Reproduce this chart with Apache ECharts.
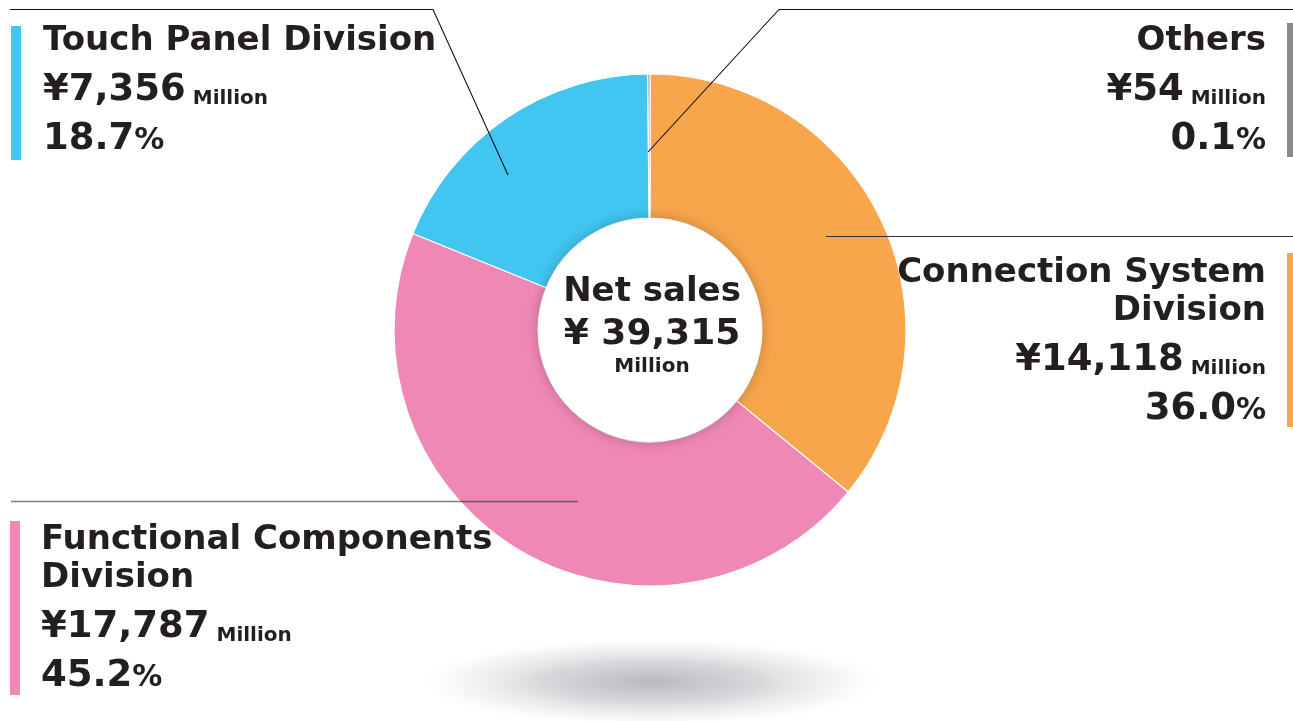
<!DOCTYPE html>
<html>
<head>
<meta charset="utf-8">
<style>
  html, body { margin: 0; padding: 0; background: #fff; }
  #chart { width: 1293px; height: 721px; }
</style>
<script src="https://cdn.jsdelivr.net/npm/echarts@6/dist/echarts.min.js"></script>
</head>
<body>
<div id="chart"></div>
<script>
(function() {
  // data, clockwise from 12 o'clock
  var divisionNames = ['Connection System\nDivision', 'Functional Components\nDivision', 'Touch Panel Division', 'Others'];
  var salesMillion = [14118, 17787, 7356, 54];
  var shareLabels = ['36.0', '45.2', '18.7', '0.1'];
  var netSales = 39315;
  var centerTitle = 'Net sales';
  var unitLabel = 'Million';

  var ink = '#231f20';
  var sliceColors = ['#f8a64b', '#f088b5', '#41c6f2', '#8a8a8a'];
  var pieCenter = [650, 330];

  // where each label sits and how its leader line runs
  var labelSpots = [
    { x: 1266, y: 254, align: 'right', line: [[826, 236.5], [1100, 236.5], [1293, 236.5]], lineColor: '#333', lineWidth: 1.2 },
    { x: 41, y: 521, align: 'left', line: [[578, 501.5], [300, 501.5], [11, 501.5]], lineColor: 'rgba(40,40,40,0.6)', lineWidth: 1.5 },
    { x: 43, y: 22, align: 'left', line: [[508, 175], [433, 9.5], [10, 9.5]], lineColor: '#111', lineWidth: 1.1 },
    { x: 1266, y: 22, align: 'right', line: [[648, 152], [779, 9.5], [1293, 9.5]], lineColor: '#111', lineWidth: 1.1 }
  ];
  var barSpots = [
    { x: 1287, y: 253, w: 8, h: 174 },
    { x: 10, y: 521, w: 10, h: 174 },
    { x: 11, y: 26, w: 10, h: 134 },
    { x: 1287, y: 23, w: 8, h: 134 }
  ];

  function fmt(n) { return n.toLocaleString('en-US'); }

  var font = 'DejaVu Sans';
  var rich = {
    title: { fontFamily: font, fontWeight: 'bold', fontSize: 34, lineHeight: 38, color: ink },
    num: { fontFamily: font, fontWeight: 'bold', fontSize: 37, lineHeight: 60, color: ink },
    unit: { fontFamily: font, fontWeight: 'bold', fontSize: 20, verticalAlign: 'bottom', padding: [0, 0, 11, 0], color: ink },
    pct: { fontFamily: font, fontWeight: 'bold', fontSize: 37, lineHeight: 38, color: ink },
    pctSign: { fontFamily: font, fontWeight: 'bold', fontSize: 30, verticalAlign: 'bottom', padding: [0, 0, 2, 0], color: ink }
  };

  var pieData = divisionNames.map(function(name, i) {
    return { name: name, value: salesMillion[i], itemStyle: { color: sliceColors[i] } };
  });

  var graphics = [{
    type: 'circle', x: 651, y: 682, scaleY: 0.19, silent: true, z: -10,
    shape: { cx: 0, cy: 0, r: 240 },
    style: {
      fill: {
        type: 'radial', x: 0.5, y: 0.5, r: 0.5,
        colorStops: [
          { offset: 0, color: 'rgba(184,185,190,1)' },
          { offset: 0.45, color: 'rgba(208,209,212,0.85)' },
          { offset: 0.8, color: 'rgba(236,236,238,0.5)' },
          { offset: 1, color: 'rgba(255,255,255,0)' }
        ]
      }
    }
  }];
  barSpots.forEach(function(b, i) {
    graphics.push({
      type: 'rect', silent: true,
      shape: { x: b.x, y: b.y, width: b.w, height: b.h },
      style: { fill: sliceColors[i] }
    });
  });
  // leader lines sit on top of the ring
  labelSpots.forEach(function(s) {
    graphics.push({
      type: 'polyline', silent: true, z: 100,
      shape: { points: s.line },
      style: { stroke: s.lineColor, lineWidth: s.lineWidth, fill: null }
    });
  });

  var chart = echarts.init(document.getElementById('chart'));
  chart.setOption({
    backgroundColor: '#fff',
    animation: false,
    graphic: graphics,
    series: [{
      type: 'pie',
      center: pieCenter,
      radius: [112, 256],
      startAngle: 90,
      clockwise: true,
      avoidLabelOverlap: false,
      silent: true,
      itemStyle: { borderColor: '#fff', borderWidth: 1.2 },
      label: {
        show: true,
        position: 'outside',
        rich: rich,
        formatter: function(p) {
          var i = p.dataIndex;
          return '{title|' + divisionNames[i] + '}\n' +
            '{num|¥' + fmt(salesMillion[i]) + '}{unit| ' + unitLabel + '}\n' +
            '{pct|' + shareLabels[i] + '}{pctSign|%}';
        }
      },
      labelLine: { show: false },
      labelLayout: function(p) {
        var s = labelSpots[p.dataIndex];
        return { x: s.x, y: s.y, align: s.align, verticalAlign: 'top' };
      },
      data: pieData
    }, {
      type: 'pie',
      center: pieCenter,
      radius: [0, 112],
      silent: true,
      z: 3,
      itemStyle: { color: '#fff', shadowBlur: 14, shadowColor: 'rgba(0,0,0,0.25)' },
      label: {
        show: true,
        position: 'center',
        formatter: '{a|' + centerTitle + '}\n{b|¥ ' + fmt(netSales) + '}\n{c|' + unitLabel + '}',
        rich: {
          a: { fontFamily: font, fontWeight: 'bold', fontSize: 34, lineHeight: 44, color: ink },
          b: { fontFamily: font, fontWeight: 'bold', fontSize: 36, lineHeight: 42, color: ink },
          c: { fontFamily: font, fontWeight: 'bold', fontSize: 20, lineHeight: 22, color: ink }
        }
      },
      labelLine: { show: false },
      labelLayout: function() {
        return { x: 652, y: 270, align: 'center', verticalAlign: 'top' };
      },
      data: [{ name: centerTitle, value: netSales }]
    }]
  });
})();
</script>
</body>
</html>
